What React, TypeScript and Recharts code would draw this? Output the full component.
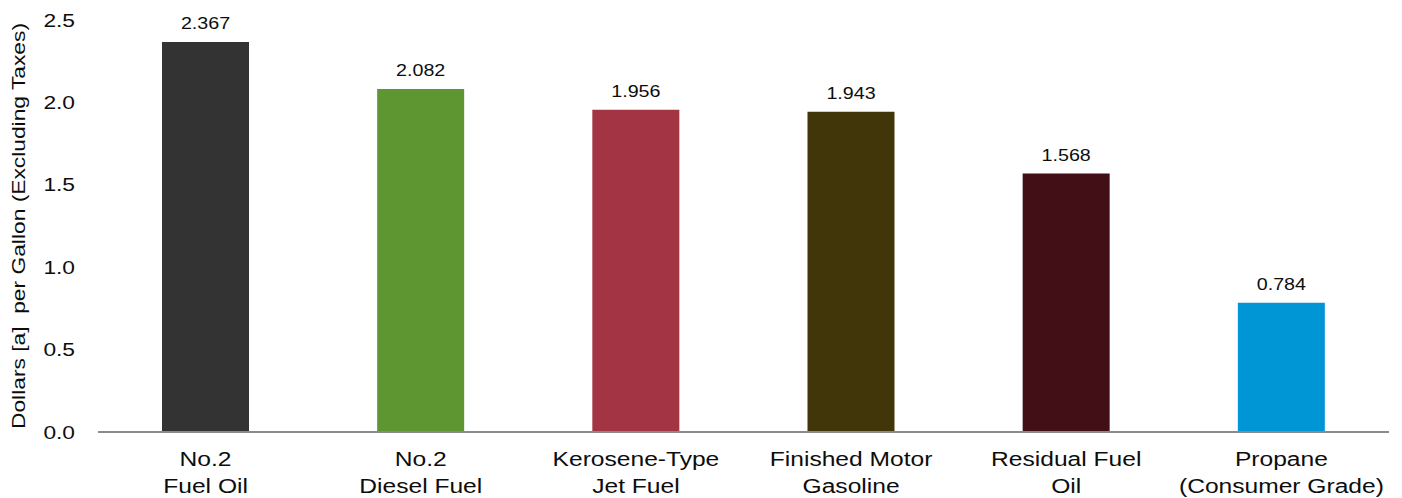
import { BarChart, Bar, XAxis, YAxis, Cell, LabelList } from 'recharts'

const categories = [
  ['No.2', 'Fuel Oil'],
  ['No.2', 'Diesel Fuel'],
  ['Kerosene-Type', 'Jet Fuel'],
  ['Finished Motor', 'Gasoline'],
  ['Residual Fuel', 'Oil'],
  ['Propane', '(Consumer Grade)'],
]
const prices = [2.367, 2.082, 1.956, 1.943, 1.568, 0.784]
const barColors = ['#333333', '#5e9732', '#a33444', '#41350a', '#420f16', '#0096d6']
const yTicks = [0, 0.5, 1.0, 1.5, 2.0, 2.5]
const yTitle = 'Dollars [a]  per Gallon (Excluding Taxes)'

const FONT = 'Liberation Sans, Arial, sans-serif'
const INK = '#0d0d0d'
// the source text is rendered noticeably wider than plain Arial
const STRETCH = 1.23

function CategoryTick({ x, y, payload }: any) {
  const lines = categories[payload.index] ?? []
  return (
    <g transform={`translate(${x},${y}) scale(${STRETCH},1)`}>
      <text x={0} y={0} textAnchor="middle" fill={INK} fontSize={20} fontFamily={FONT}>
        {lines.map((l, i) => (
          <tspan key={i} x={0} dy={i === 0 ? 26 : 27}>
            {l}
          </tspan>
        ))}
      </text>
    </g>
  )
}

function ValueTick({ x, y, payload }: any) {
  return (
    <g transform={`translate(${x - 17},${y}) scale(${STRETCH},1)`}>
      <text x={0} y={0} dy="0.36em" textAnchor="end" fill={INK} fontSize={18.5} fontFamily={FONT}>
        {Number(payload.value).toFixed(1)}
      </text>
    </g>
  )
}

function YTitle({ viewBox }: any) {
  const cy = viewBox ? viewBox.y + viewBox.height / 2 : 226
  return (
    <g transform={`translate(18,${cy}) rotate(-90) scale(${STRETCH - 0.03},1)`}>
      <text
        x={0}
        y={0}
        dy="0.36em"
        textAnchor="middle"
        fill={INK}
        fontSize={19}
        fontFamily={FONT}
        style={{ whiteSpace: 'pre' }}
      >
        {yTitle}
      </text>
    </g>
  )
}

function BarValue({ x, y, width, value }: any) {
  return (
    <g transform={`translate(${x + width / 2},${y - 13}) scale(${STRETCH},1)`}>
      <text x={0} y={0} textAnchor="middle" fill={INK} fontSize={16} fontFamily={FONT}>
        {Number(value).toFixed(3)}
      </text>
    </g>
  )
}

export default function App() {
  const chartData = prices.map((p, i) => ({ name: categories[i].join(' '), price: p }))

  return (
    <div style={{ position: 'absolute', left: 0, top: 0, background: '#fff' }}>
      <BarChart
        width={1402}
        height={498}
        data={chartData}
        margin={{ top: 20, right: 13, bottom: 0, left: 0 }}
        barCategoryGap={0}
      >
        <XAxis
          dataKey="name"
          interval={0}
          tickLine={false}
          axisLine={{ stroke: '#8a8a8a', strokeWidth: 2 }}
          tick={<CategoryTick />}
          height={66}
        />
        <YAxis
          domain={[0, 2.5]}
          ticks={yTicks}
          interval={0}
          width={98}
          axisLine={false}
          tickLine={false}
          tick={<ValueTick />}
          tickMargin={0}
          label={<YTitle />}
        />
        <Bar dataKey="price" barSize={87} isAnimationActive={false}>
          {chartData.map((_, i) => (
            <Cell key={i} fill={barColors[i]} />
          ))}
          <LabelList dataKey="price" content={<BarValue />} />
        </Bar>
      </BarChart>
    </div>
  )
}
